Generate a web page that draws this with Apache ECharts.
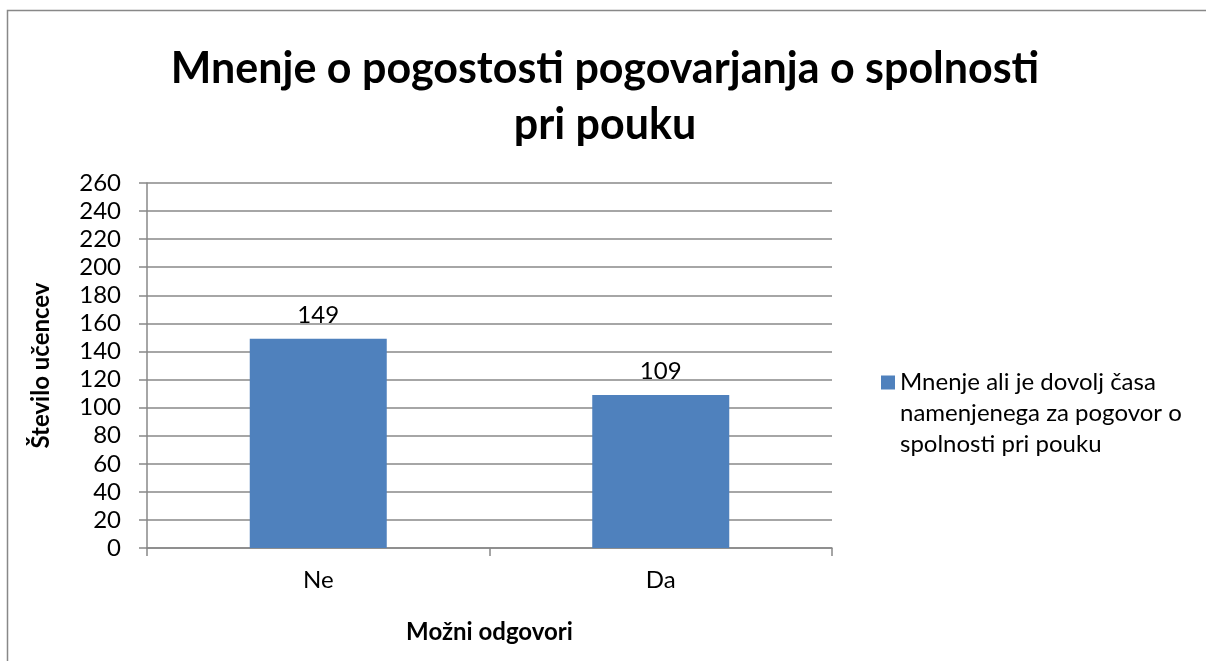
<!DOCTYPE html>
<html>
<head>
<meta charset="utf-8">
<script src="https://cdn.jsdelivr.net/npm/echarts@6/dist/echarts.min.js"></script>
<style>
  html, body { margin: 0; padding: 0; background: #fff; }
  #chart { width: 1206px; height: 661px; }
</style>
</head>
<body>
<div id="chart"></div>
<script>
// data
const categories = ['Ne', 'Da']
const values = [149, 109]
const seriesName = 'Mnenje ali je dovolj časa\nnamenjenega za pogovor o\nspolnosti pri pouku'

const font = 'Lato, "Open Sans", sans-serif'
const chart = echarts.init(document.getElementById('chart'))

const option = {
  animation: false,
  textStyle: { fontFamily: font },
  title: {
    text: 'Mnenje o pogostosti pogovarjanja o spolnosti\npri pouku',
    left: 600,
    top: 36,
    textAlign: 'center',
    textStyle: {
      fontFamily: font,
      fontSize: 43,
      fontWeight: 'bold',
      color: '#000',
      lineHeight: 56
    }
  },
  // chart border, only top and left edges are in view
  graphic: [
    {
      type: 'polyline',
      shape: { points: [[7.5, 700], [7.5, 10.5], [1220, 10.5]] },
      style: { fill: null, stroke: '#888', lineWidth: 1.5 },
      silent: true
    }
  ],
  legend: {
    orient: 'vertical',
    left: 876,
    top: 300,
    itemWidth: 14,
    itemHeight: 14,
    icon: 'rect',
    // two empty lines on top so the icon sits next to the first text line
    formatter: name => '\n\n' + name,
    textStyle: {
      fontFamily: font,
      fontSize: 24,
      color: '#000',
      lineHeight: 31
    },
    data: [seriesName]
  },
  grid: {
    left: 147,
    right: 374,
    top: 183,
    bottom: 113,
    containLabel: false
  },
  xAxis: {
    type: 'category',
    data: categories,
    name: 'Možni odgovori',
    nameLocation: 'middle',
    nameGap: 72,
    nameTextStyle: { fontFamily: font, fontSize: 24, fontWeight: 'bold', color: '#000' },
    axisLine: { lineStyle: { color: '#888', width: 1.5 } },
    axisTick: { show: true, length: 8, lineStyle: { color: '#888', width: 1.5 } },
    axisLabel: { fontFamily: font, fontSize: 24, color: '#000', margin: 20 }
  },
  yAxis: {
    type: 'value',
    min: 0,
    max: 260,
    interval: 20,
    name: 'Število učencev',
    nameLocation: 'middle',
    nameGap: 94,
    nameRotate: 90,
    nameTextStyle: { fontFamily: font, fontSize: 24, fontWeight: 'bold', color: '#000' },
    axisLine: { show: true, lineStyle: { color: '#888', width: 1.5 } },
    axisTick: { show: true, length: 8, lineStyle: { color: '#888', width: 1.5 } },
    axisLabel: { fontFamily: font, fontSize: 24, color: '#000', margin: 26 },
    splitLine: { lineStyle: { color: '#888', width: 1.5 } }
  },
  series: [
    {
      name: seriesName,
      type: 'bar',
      data: values,
      barWidth: '40%',
      itemStyle: { color: '#4F81BD' },
      label: {
        show: true,
        position: 'top',
        distance: 12,
        fontFamily: font,
        fontSize: 24,
        color: '#000'
      }
    }
  ]
}

chart.setOption(option)
</script>
</body>
</html>
